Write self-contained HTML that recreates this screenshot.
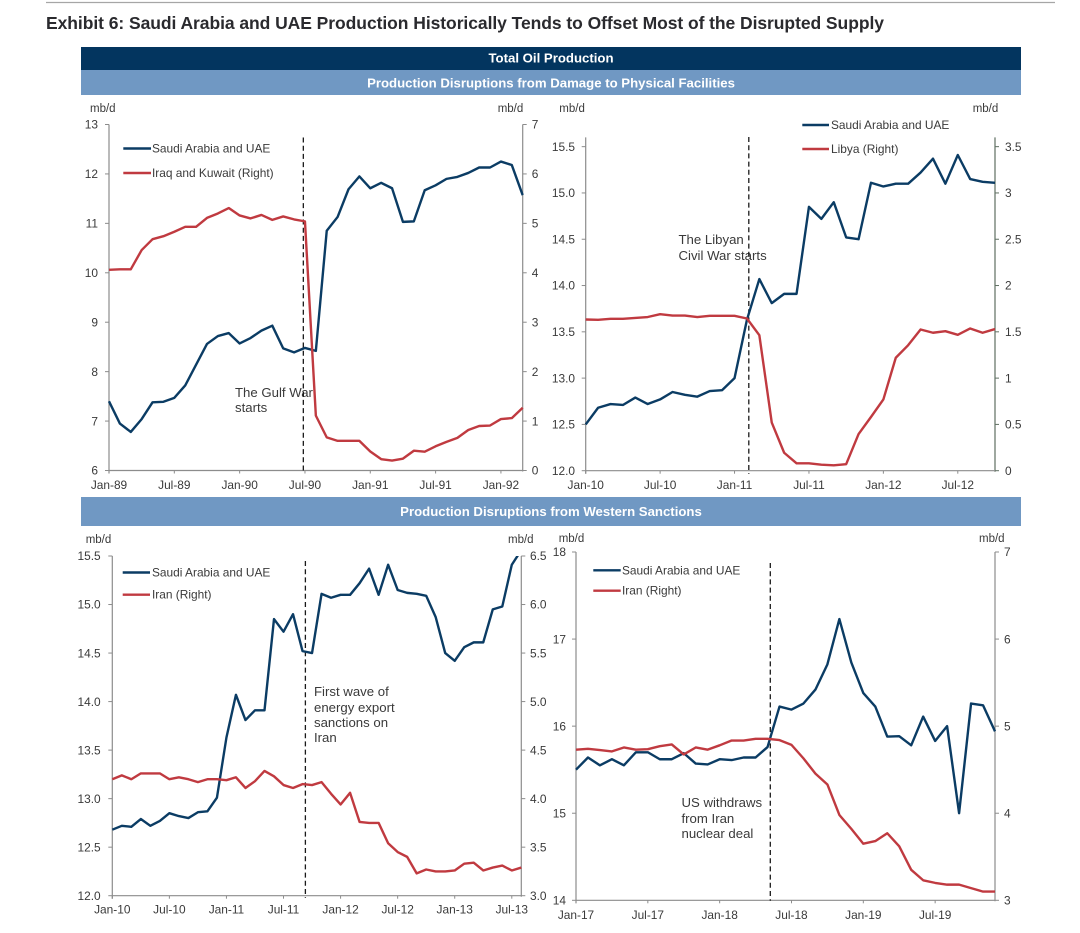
<!DOCTYPE html>
<html lang="en">
<head>
<meta charset="utf-8">
<title>Exhibit 6</title>
<style>
html,body{margin:0;padding:0;background:#fff;width:1080px;height:933px;overflow:hidden}
svg{display:block}
text{font-family:"Liberation Sans",Arial,sans-serif;fill:#3a3a3a;font-size:11.9px}
.ann{font-size:13.2px}
.unit{font-size:11.5px}
.hdr{font-weight:bold;fill:#fff;font-size:13.2px;text-anchor:middle}
</style>
</head>
<body>
<svg id="page" xmlns="http://www.w3.org/2000/svg" width="1080" height="933" viewBox="0 0 1080 933">
  <line x1="46" y1="2.5" x2="1055" y2="2.5" stroke="#a6a6a6" stroke-width="1.2"/>
  <text x="46" y="29" style="font-size:17.5px;font-weight:bold;fill:#2a2a2e" textLength="838" lengthAdjust="spacing">Exhibit 6: Saudi Arabia and UAE Production Historically Tends to Offset Most of the Disrupted Supply</text>

  <rect x="81" y="47" width="940" height="23" fill="#03355f"/>
  <text class="hdr" x="551" y="62.5">Total Oil Production</text>
  <rect x="81" y="70" width="940" height="25" fill="#7098c3"/>
  <text class="hdr" x="551" y="87.5">Production Disruptions from Damage to Physical Facilities</text>
  <rect x="81" y="497" width="940" height="29" fill="#7098c3"/>
  <text class="hdr" x="551" y="516">Production Disruptions from Western Sanctions</text>

  <g id="chart1">
    <text class="unit" x="90" y="112">mb/d</text>
    <text class="unit" x="497.7" y="112">mb/d</text>
    <line x1="123.3" y1="148.5" x2="151" y2="148.5" stroke="#0b3c64" stroke-width="2.4"/>
    <text x="152" y="152.5">Saudi Arabia and UAE</text>
    <line x1="123.3" y1="173" x2="151" y2="173" stroke="#c03a40" stroke-width="2.4"/>
    <text x="152" y="177">Iraq and Kuwait (Right)</text>
    <text class="ann" x="235" y="397">The Gulf War</text>
    <text class="ann" x="235" y="412">starts</text>
  </g>

  <g id="chart2">
    <text class="unit" x="559.3" y="112">mb/d</text>
    <text class="unit" x="972.7" y="112">mb/d</text>
    <line x1="802.3" y1="125" x2="829" y2="125" stroke="#0b3c64" stroke-width="2.4"/>
    <text x="831" y="129">Saudi Arabia and UAE</text>
    <line x1="802.3" y1="149" x2="829" y2="149" stroke="#c03a40" stroke-width="2.4"/>
    <text x="831" y="153">Libya (Right)</text>
    <text class="ann" x="678.5" y="244">The Libyan</text>
    <text class="ann" x="678.5" y="260">Civil War starts</text>
  </g>

  <g id="chart3">
    <text class="unit" x="85.7" y="543">mb/d</text>
    <text class="unit" x="508" y="543">mb/d</text>
    <line x1="122.7" y1="572.5" x2="150" y2="572.5" stroke="#0b3c64" stroke-width="2.4"/>
    <text x="152" y="576.5">Saudi Arabia and UAE</text>
    <line x1="122.7" y1="594.7" x2="150" y2="594.7" stroke="#c03a40" stroke-width="2.4"/>
    <text x="152" y="598.7">Iran (Right)</text>
    <text class="ann" x="314" y="696">First wave of</text>
    <text class="ann" x="314" y="712">energy export</text>
    <text class="ann" x="314" y="727">sanctions on</text>
    <text class="ann" x="314" y="742">Iran</text>
  </g>

  <g id="chart4">
    <text class="unit" x="558.7" y="542">mb/d</text>
    <text class="unit" x="979" y="542">mb/d</text>
    <line x1="593.3" y1="570.3" x2="620.7" y2="570.3" stroke="#0b3c64" stroke-width="2.4"/>
    <text x="622" y="574.3">Saudi Arabia and UAE</text>
    <line x1="593.3" y1="590.7" x2="620.7" y2="590.7" stroke="#c03a40" stroke-width="2.4"/>
    <text x="622" y="594.7">Iran (Right)</text>
    <text class="ann" x="681.5" y="807">US withdraws</text>
    <text class="ann" x="681.5" y="823">from Iran</text>
    <text class="ann" x="681.5" y="838">nuclear deal</text>
  </g>
</svg>
<script>
// ---- Chart 1: Gulf War ----
const c1Saudi = [7.40,6.95,6.78,7.04,7.38,7.39,7.47,7.72,8.14,8.56,8.72,8.78,8.57,8.68,8.83,8.93,8.47,8.39,8.48,8.42,10.85,11.13,11.69,11.95,11.71,11.82,11.71,11.03,11.04,11.67,11.77,11.90,11.94,12.02,12.13,12.13,12.25,12.18,11.57];
const c1Other = [4.06,4.07,4.07,4.46,4.68,4.74,4.83,4.93,4.93,5.11,5.20,5.31,5.16,5.10,5.17,5.07,5.14,5.08,5.04,1.11,0.67,0.60,0.60,0.60,0.385,0.23,0.20,0.24,0.40,0.38,0.49,0.58,0.66,0.82,0.90,0.91,1.04,1.06,1.27];
const c1XLabels = ['Jan-89','Jul-89','Jan-90','Jul-90','Jan-91','Jul-91','Jan-92'];
const c1XMonths = [0,6,12,18,24,30,36];
const c1LeftTicks = [6,7,8,9,10,11,12,13];
const c1LeftLabels = ['6','7','8','9','10','11','12','13'];
const c1RightTicks = [0,1,2,3,4,5,6,7];
const c1RightLabels = ['0','1','2','3','4','5','6','7'];
const c1LeftDomain = [6,13];
const c1RightDomain = [0,7];
const c1EventMonth = 17.85;

// ---- Chart 2: Libyan civil war ----
const c2Saudi = [12.50,12.68,12.72,12.71,12.79,12.72,12.77,12.85,12.82,12.80,12.86,12.87,13.00,13.63,14.07,13.81,13.91,13.91,14.85,14.72,14.90,14.52,14.50,15.11,15.07,15.10,15.10,15.22,15.37,15.10,15.41,15.15,15.12,15.11];
const c2Other = [1.633,1.63,1.64,1.64,1.65,1.66,1.69,1.676,1.676,1.66,1.673,1.673,1.673,1.644,1.464,0.52,0.194,0.08,0.08,0.065,0.058,0.07,0.396,0.58,0.77,1.22,1.356,1.525,1.49,1.507,1.468,1.536,1.49,1.53];
const c2XLabels = ['Jan-10','Jul-10','Jan-11','Jul-11','Jan-12','Jul-12'];
const c2XMonths = [0,6,12,18,24,30];
const c2LeftTicks = [12,12.5,13,13.5,14,14.5,15,15.5];
const c2LeftLabels = ['12.0','12.5','13.0','13.5','14.0','14.5','15.0','15.5'];
const c2RightTicks = [0,0.5,1,1.5,2,2.5,3,3.5];
const c2RightLabels = ['0','0.5','1','1.5','2','2.5','3','3.5'];
const c2LeftDomain = [12,15.6];
const c2RightDomain = [0,3.6];
const c2EventMonth = 13.15;

// ---- Chart 3: first wave of sanctions on Iran ----
const c3Saudi = [12.68,12.72,12.71,12.79,12.72,12.77,12.85,12.82,12.80,12.86,12.87,13.01,13.63,14.07,13.81,13.91,13.91,14.85,14.72,14.90,14.52,14.50,15.11,15.07,15.10,15.10,15.22,15.37,15.10,15.41,15.15,15.12,15.11,15.09,14.87,14.50,14.42,14.56,14.61,14.61,14.95,14.98,15.41,15.56];
const c3Other = [4.20,4.24,4.20,4.26,4.26,4.26,4.20,4.22,4.20,4.17,4.20,4.20,4.19,4.22,4.11,4.18,4.285,4.23,4.14,4.11,4.15,4.14,4.17,4.05,3.94,4.06,3.76,3.75,3.75,3.54,3.45,3.40,3.23,3.27,3.25,3.25,3.26,3.33,3.34,3.26,3.29,3.31,3.26,3.29];
const c3XLabels = ['Jan-10','Jul-10','Jan-11','Jul-11','Jan-12','Jul-12','Jan-13','Jul-13'];
const c3XMonths = [0,6,12,18,24,30,36,42];
const c3LeftTicks = [12,12.5,13,13.5,14,14.5,15,15.5];
const c3LeftLabels = ['12.0','12.5','13.0','13.5','14.0','14.5','15.0','15.5'];
const c3RightTicks = [3,3.5,4,4.5,5,5.5,6,6.5];
const c3RightLabels = ['3.0','3.5','4.0','4.5','5.0','5.5','6.0','6.5'];
const c3LeftDomain = [12,15.5];
const c3RightDomain = [3,6.5];
const c3EventMonth = 20.3;

// ---- Chart 4: US withdraws from Iran nuclear deal ----
const c4Saudi = [15.50,15.64,15.55,15.62,15.55,15.70,15.70,15.62,15.62,15.69,15.57,15.56,15.62,15.61,15.64,15.64,15.76,16.225,16.19,16.26,16.42,16.71,17.23,16.73,16.38,16.225,15.88,15.885,15.78,16.11,15.83,16.00,15.00,16.26,16.24,15.94];
const c4Other = [4.73,4.74,4.725,4.71,4.755,4.73,4.735,4.77,4.79,4.675,4.755,4.73,4.78,4.835,4.835,4.855,4.855,4.84,4.785,4.63,4.455,4.33,3.98,3.82,3.65,3.68,3.77,3.62,3.35,3.23,3.20,3.18,3.18,3.14,3.10,3.10];
const c4XLabels = ['Jan-17','Jul-17','Jan-18','Jul-18','Jan-19','Jul-19'];
const c4XMonths = [0,6,12,18,24,30];
const c4LeftTicks = [14,15,16,17,18];
const c4LeftLabels = ['14','15','16','17','18'];
const c4RightTicks = [3,4,5,6,7];
const c4RightLabels = ['3','4','5','6','7'];
const c4LeftDomain = [14,18];
const c4RightDomain = [3,7];
const c4EventMonth = 16.23;

const NS = 'http://www.w3.org/2000/svg';
function make(tag, attrs, parent) {
  const n = document.createElementNS(NS, tag);
  for (const k in attrs) n.setAttribute(k, attrs[k]);
  parent.appendChild(n);
  return n;
}

function drawChart(id, box, saudi, other, xMonths, xLabels, leftTicks, leftLabels, rightTicks, rightLabels, leftDomain, rightDomain, eventMonth) {
  const g = document.getElementById(id);
  const xs = m => box.left + m / (saudi.length - 1) * (box.right - box.left);
  const yL = v => box.bottom - (v - leftDomain[0]) / (leftDomain[1] - leftDomain[0]) * (box.bottom - box.top);
  const yR = v => box.bottom - (v - rightDomain[0]) / (rightDomain[1] - rightDomain[0]) * (box.bottom - box.top);
  const axisColor = '#8c8c8c';

  const leftAxis = make('line', {x1: box.left, y1: box.top, x2: box.left, y2: box.bottom + 3, stroke: axisColor, 'stroke-width': 1.2}, g);
  
  
  const rightAxis = make('line', {x1: box.right, y1: box.top, x2: box.right, y2: box.bottom + 1, stroke: box.rightColor || axisColor, 'stroke-width': 1.2}, g);
  
  
  const xAxis = make('line', {x1: box.left, y1: box.bottom, x2: box.right, y2: box.bottom, stroke: axisColor, 'stroke-width': 1.2}, g);
  
  

  leftTicks.forEach((v, i) => {
    const y = yL(v);
    const tick = make('line', {x1: box.left - 4, y1: y, x2: box.left, y2: y, stroke: axisColor, 'stroke-width': 1}, g);
    
    
    const label = make('text', {x: box.left - box.leftGap, y: y + 4.2, 'text-anchor': 'end'}, g);
    
    
    label.textContent = leftLabels[i];
  });
  rightTicks.forEach((v, i) => {
    const y = yR(v);
    const tick = make('line', {x1: box.right, y1: y, x2: box.right + 4, y2: y, stroke: box.rightColor || axisColor, 'stroke-width': 1}, g);
    
    
    const label = make('text', {x: box.right + box.rightGap, y: y + 4.2}, g);
    
    
    label.textContent = rightLabels[i];
  });
  xMonths.forEach((m, i) => {
    const x = xs(m);
    const tick = make('line', {x1: x, y1: box.bottom, x2: x, y2: box.bottom + 3, stroke: axisColor, 'stroke-width': 1}, g);
    
    
    const label = make('text', {x: x, y: box.labelY, 'text-anchor': 'middle'}, g);
    
    
    label.textContent = xLabels[i];
  });

  const clip = make('clipPath', {id: id + '-clip'}, g);
  make('rect', {x: box.left - 1, y: box.top, width: box.right - box.left + 2, height: box.bottom - box.top + 2}, clip);

  const saudiPts = saudi.map((v, i) => xs(i).toFixed(2) + ',' + yL(v).toFixed(2)).join(' ');
  const otherPts = other.map((v, i) => xs(i).toFixed(2) + ',' + yR(v).toFixed(2)).join(' ');

  const ex = xs(eventMonth);
  const marker = make('line', {x1: ex, y1: box.eventTop, x2: ex, y2: box.eventBottom, stroke: '#1a1a1a', 'stroke-width': 1.3, 'stroke-dasharray': '5 3.2'}, g);
  
  

  const saudiLine = make('polyline', {points: saudiPts, fill: 'none', stroke: '#0b3c64', 'stroke-width': 2.4, 'stroke-linejoin': 'round', 'clip-path': 'url(#' + id + '-clip)'}, g);
  
  
  const otherLine = make('polyline', {points: otherPts, fill: 'none', stroke: '#c03a40', 'stroke-width': 2.4, 'stroke-linejoin': 'round', 'clip-path': 'url(#' + id + '-clip)'}, g);
  
  
}

drawChart('chart1', {left:109, right:522.7, top:124.5, bottom:470.5, leftGap:11, rightGap:9, labelY:488.8, eventTop:137.5, eventBottom:472},
  c1Saudi, c1Other, c1XMonths, c1XLabels, c1LeftTicks, c1LeftLabels, c1RightTicks, c1RightLabels, c1LeftDomain, c1RightDomain, c1EventMonth);
drawChart('chart2', {left:585.7, right:995, top:137.4, bottom:470.7, leftGap:10.7, rightGap:10, labelY:489, eventTop:137, eventBottom:474, rightColor:'#5f6f62'},
  c2Saudi, c2Other, c2XMonths, c2XLabels, c2LeftTicks, c2LeftLabels, c2RightTicks, c2RightLabels, c2LeftDomain, c2RightDomain, c2EventMonth);
drawChart('chart3', {left:112.3, right:521.3, top:556, bottom:895.7, leftGap:11.6, rightGap:8.7, labelY:913.3, eventTop:561, eventBottom:898},
  c3Saudi, c3Other, c3XMonths, c3XLabels, c3LeftTicks, c3LeftLabels, c3RightTicks, c3RightLabels, c3LeftDomain, c3RightDomain, c3EventMonth);
drawChart('chart4', {left:576, right:995, top:552, bottom:900.3, leftGap:10, rightGap:9, labelY:919, eventTop:563, eventBottom:900.7},
  c4Saudi, c4Other, c4XMonths, c4XLabels, c4LeftTicks, c4LeftLabels, c4RightTicks, c4RightLabels, c4LeftDomain, c4RightDomain, c4EventMonth);
</script>
</body>
</html>
